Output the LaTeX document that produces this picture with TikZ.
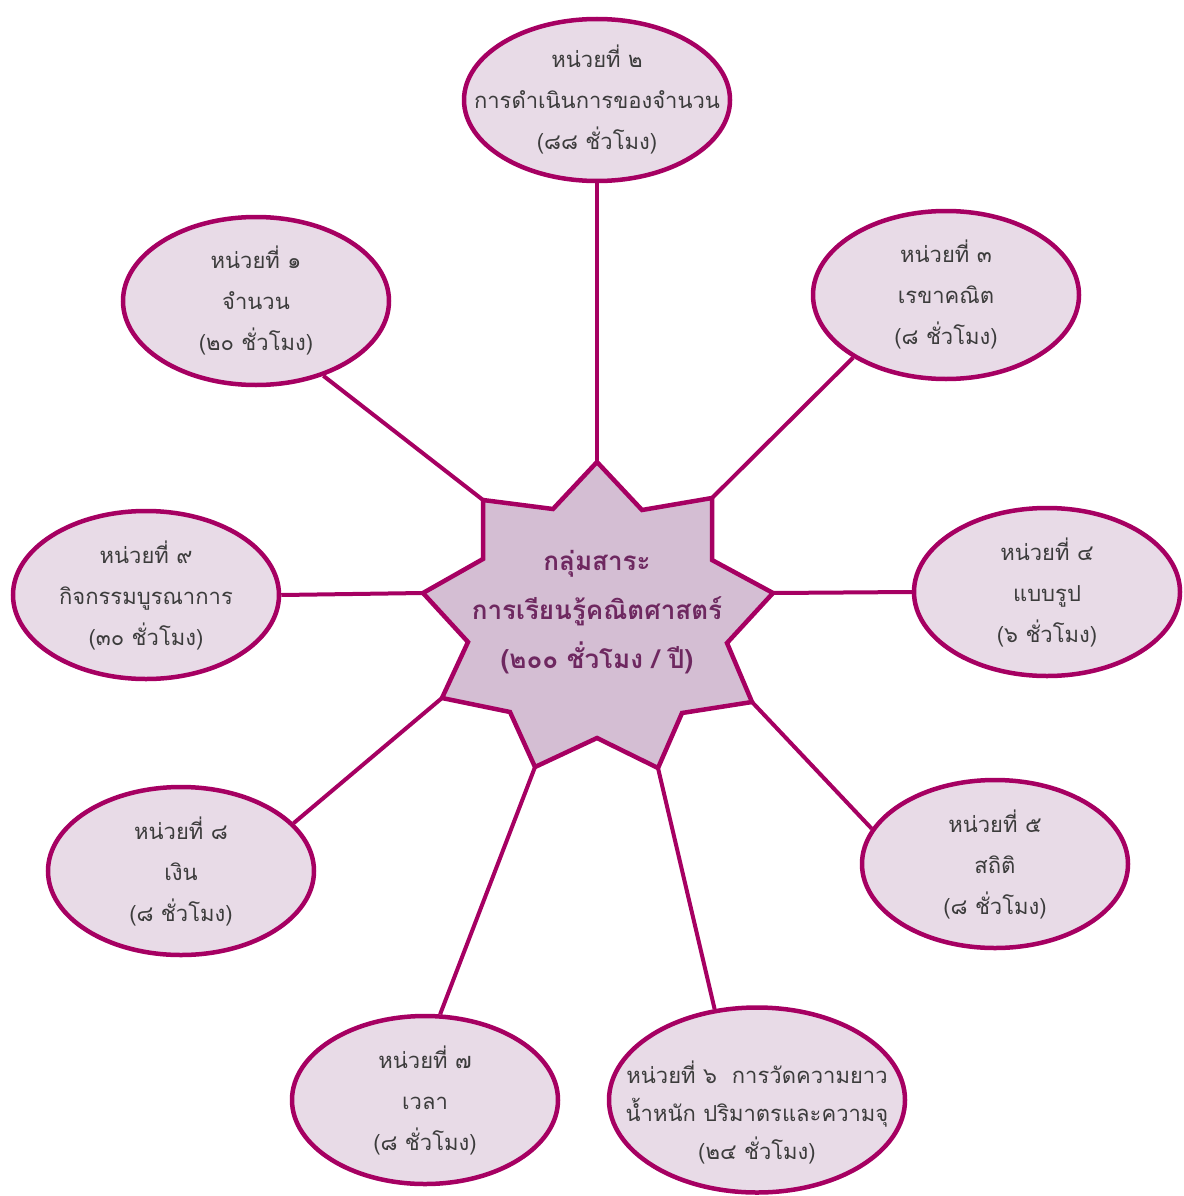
\documentclass[tikz,border=0pt]{standalone}
\usepackage{fontspec}
\usetikzlibrary{shapes.geometric}
\newfontfamily\thaifont[Script=Thai]{Loma}
\definecolor{mag}{RGB}{166,0,98}
\definecolor{ellfill}{RGB}{232,219,231}
\definecolor{starfill}{RGB}{212,190,211}
\definecolor{startext}{RGB}{110,40,96}
\definecolor{elltext}{RGB}{60,60,60}
\tikzset{
  unit/.style={ellipse, draw=mag, fill=ellfill, line width=4.5pt, inner sep=0pt,
    minimum width=266pt, minimum height=168pt},
  unittxt/.style={align=center, text=elltext, inner sep=0pt,
    font=\thaifont\fontsize{22}{41}\selectfont},
  link/.style={draw=mag, line width=4pt},
  starshape/.style={draw=mag, fill=starfill, line width=4.5pt, line join=miter},
  startxt/.style={align=center, text=startext, font=\thaifont\bfseries\fontsize{26}{49}\selectfont}
}
\begin{document}
\begin{tikzpicture}[x=1pt,y=-1pt]
\useasboundingbox (0,0) rectangle (1183,1196);
% star vertices
\coordinate (s1) at (597,462);
\coordinate (j1) at (642,510);
\coordinate (s2) at (712,498);
\coordinate (j2) at (712,560);
\coordinate (s3) at (773,593);
\coordinate (j3) at (727,643);
\coordinate (s4) at (752,702);
\coordinate (j4) at (682,713);
\coordinate (s5) at (658,768);
\coordinate (j5) at (597,738);
\coordinate (s6) at (535,767);
\coordinate (j6) at (510,712);
\coordinate (s7) at (442,698);
\coordinate (j7) at (468,642);
\coordinate (s8) at (423,593);
\coordinate (j8) at (483,559);
\coordinate (s9) at (483,500);
\coordinate (j9) at (553,509);
\draw[starshape] (s1) -- (j1) -- (s2) -- (j2) -- (s3) -- (j3) -- (s4) -- (j4) -- (s5) -- (j5) -- (s6) -- (j6) -- (s7) -- (j7) -- (s8) -- (j8) -- (s9) -- (j9) -- cycle;
\node[startxt] (core) at (597,612) {กลุ่มสาระ\\การเรียนรู้คณิตศาสตร์\\(๒๐๐ ชั่วโมง / ปี)};

\node[unit] (e1) at (256,301) {};
\node[unit, minimum height=162pt] (e2) at (597,100) {};
\node[unit] (e3) at (946,295) {};
\node[unit] (e4) at (1047,592) {};
\node[unit] (e5) at (995,864) {};
\node[unit, minimum width=296pt, minimum height=185pt] (e6) at (757,1100) {};
\node[unit] (e7) at (425,1100) {};
\node[unit] (e8) at (181,871) {};
\node[unit] (e9) at (146,595) {};

\node[unittxt] (t1) at (e1) {หน่วยที่ ๑\\จำนวน\\(๒๐ ชั่วโมง)};
\node[unittxt] (t2) at (e2) {หน่วยที่ ๒\\การดำเนินการของจำนวน\\(๘๘ ชั่วโมง)};
\node[unittxt] (t3) at (e3) {หน่วยที่ ๓\\เรขาคณิต\\(๘ ชั่วโมง)};
\node[unittxt] (t4) at (e4) {หน่วยที่ ๔\\แบบรูป\\(๖ ชั่วโมง)};
\node[unittxt] (t5) at (e5) {หน่วยที่ ๕\\สถิติ\\(๘ ชั่วโมง)};
\node[unittxt, font=\thaifont\fontsize{22}{38}\selectfont] (t6) at (757,1112) {หน่วยที่ ๖~~การวัดความยาว\\น้ำหนัก ปริมาตรและความจุ\\(๒๔ ชั่วโมง)};
\node[unittxt] (t7) at (e7) {หน่วยที่ ๗\\เวลา\\(๘ ชั่วโมง)};
\node[unittxt] (t8) at (e8) {หน่วยที่ ๘\\เงิน\\(๘ ชั่วโมง)};
\node[unittxt] (t9) at (e9) {หน่วยที่ ๙\\กิจกรรมบูรณาการ\\(๓๐ ชั่วโมง)};

\draw[link] (e2.-90) -- (s1);
\draw[link] (e1.-48) -- (s9);
\draw[link] (e3.-146) -- (s2);
\draw[link] (e4.180) -- (s3);
\draw[link] (e5.164) -- (s4);
\draw[link] (e6.115) -- (s5);
\draw[link] (e7.80) -- (s6);
\draw[link] (e8.23) -- (s7);
\draw[link] (e9.0) -- (s8);
\end{tikzpicture}
\end{document}
